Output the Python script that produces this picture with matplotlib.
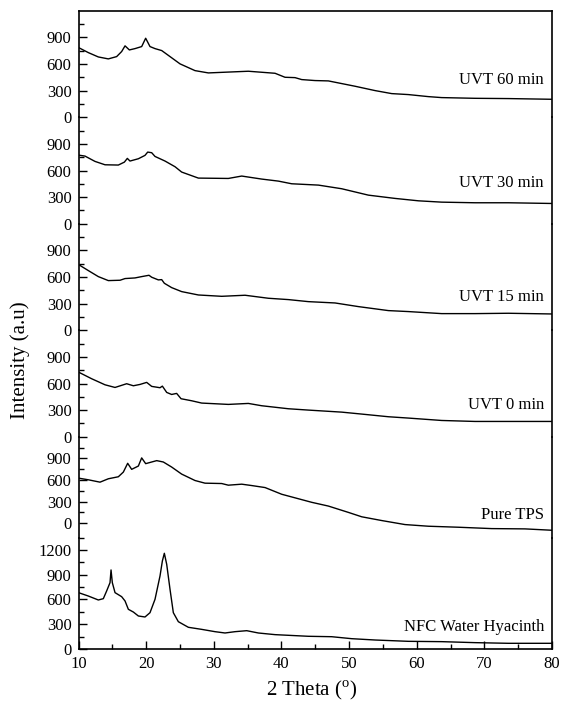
import matplotlib
matplotlib.use("Agg")
import matplotlib.pyplot as plt
from matplotlib.ticker import FixedLocator, MultipleLocator

plt.rcParams['font.family'] = ['Liberation Serif', 'DejaVu Serif']
plt.rcParams['mathtext.fontset'] = 'custom'
plt.rcParams['mathtext.rm'] = 'Liberation Serif'

# ---------------- data ----------------
labels = ["UVT 60 min", "UVT 30 min", "UVT 15 min", "UVT 0 min", "Pure TPS", "NFC Water Hyacinth"]

uvt60_x = [10.0, 11.45, 12.93, 14.41, 15.64, 16.38, 16.88, 17.52, 18.35, 19.34, 19.93, 20.57, 21.31,
           22.30, 23.53, 25.01, 27.22, 29.20, 31.66, 35.11, 39.06, 40.53, 42.01, 43.00, 44.97, 46.94,
           48.91, 50.88, 53.84, 56.30, 58.77, 61.72, 63.69, 68.62, 73.55, 80.0]
uvt60_y = [786, 729, 680, 658, 684, 741, 805, 759, 774, 797, 891, 797, 774,
           752, 684, 602, 526, 500, 508, 519, 496, 451, 447, 425, 414, 410,
           380, 350, 301, 267, 256, 233, 222, 214, 211, 203]

uvt30_x = [10.0, 10.96, 12.44, 13.92, 15.89, 16.78, 17.22, 17.61, 18.85, 19.83, 20.23, 20.82, 21.31,
           22.79, 24.27, 25.25, 27.72, 32.15, 34.13, 37.08, 39.55, 41.52, 45.47, 48.91, 52.85, 56.80,
           60.25, 63.69, 68.62, 73.55, 80.0]
uvt30_y = [774, 763, 703, 665, 662, 695, 737, 707, 733, 771, 808, 801, 759,
           707, 643, 583, 515, 511, 538, 504, 481, 451, 436, 395, 323, 286,
           259, 244, 237, 237, 229]

uvt15_x = [10.0, 11.45, 12.93, 14.41, 16.14, 16.88, 18.35, 19.34, 20.42, 20.82, 21.80, 22.30, 22.69,
           23.77, 25.25, 27.72, 31.17, 34.62, 38.07, 41.03, 43.98, 47.93, 51.38, 55.81, 58.77,
           63.69, 68.62, 73.55, 80.0]
uvt15_y = [741, 673, 605, 560, 564, 583, 590, 605, 620, 598, 568, 571, 530,
           481, 436, 398, 383, 395, 361, 346, 323, 308, 267, 222, 211,
           188, 188, 192, 184]

uvt0_x = [10.0, 11.95, 13.92, 15.40, 17.12, 18.11, 19.09, 20.08, 20.82, 22.05, 22.40, 23.04, 23.77,
          24.51, 25.16, 26.73, 28.21, 32.15, 35.11, 37.08, 41.03, 43.98, 48.91, 51.87, 55.81, 58.77,
          63.69, 68.62, 73.55, 80.0]
uvt0_y = [729, 654, 586, 556, 598, 575, 590, 613, 568, 553, 571, 500, 477,
          489, 429, 406, 380, 365, 376, 350, 316, 301, 278, 256, 226, 211,
          184, 173, 173, 173]

tps_x = [10.0, 11.45, 13.18, 14.41, 15.89, 16.63, 17.27, 17.86, 18.85, 19.34, 19.93, 21.56, 22.54,
         23.77, 25.25, 27.22, 28.70, 31.17, 32.15, 34.13, 35.60, 37.58, 40.04, 44.48, 46.94, 49.90,
         51.87, 54.82, 58.27, 61.72, 66.16, 71.09, 76.01, 80.0]
tps_y = [626, 603, 570, 617, 645, 710, 832, 748, 794, 907, 827, 869, 850,
         780, 682, 593, 556, 551, 528, 542, 523, 495, 402, 290, 238, 150,
         89, 37, -19, -42, -56, -75, -79, -98]

nfc_x = [10.0, 11.45, 12.93, 13.67, 14.16, 14.66, 14.81, 15.00, 15.40, 16.38, 16.88, 17.37, 18.11,
         18.85, 19.83, 20.57, 21.31, 22.05, 22.40, 22.69, 23.04, 23.53, 24.02, 24.76, 26.24, 28.21,
         30.18, 31.66, 33.14, 34.87, 36.59, 39.06, 43.98, 47.43, 50.39, 53.84, 58.77, 63.69, 68.62,
         73.55, 80.0]
nfc_y = [683, 642, 594, 610, 703, 804, 958, 804, 683, 634, 582, 481, 448,
         400, 388, 440, 602, 885, 1067, 1160, 1026, 723, 440, 331, 263, 238,
         210, 194, 210, 222, 194, 174, 154, 149, 125, 109, 93, 89, 77,
         69, 69]

series_x = [uvt60_x, uvt30_x, uvt15_x, uvt0_x, tps_x, nfc_x]
series_y = [uvt60_y, uvt30_y, uvt15_y, uvt0_y, tps_y, nfc_y]
label_y = [421, 455, 372, 361, 117, 267]

# ---------------- layout ----------------
W, H = 563, 706
fig = plt.figure(figsize=(W / 100, H / 100), dpi=100)

left_px, right_px = 78.5, 552.0
# (top_px, bottom_px, ymin, ymax) for each panel
panels = [
    (10.8, 117.3, 0, 1200),
    (117.3, 223.8, 0, 1200),
    (223.8, 330.3, 0, 1200),
    (330.3, 436.8, 0, 1200),
    (436.8, 537.6, -200, 1200),
    (537.6, 649.0, 0, 1350),
]

axes = []
for i, (top, bot, ymin, ymax) in enumerate(panels):
    ax = fig.add_axes([left_px / W, 1 - bot / H, (right_px - left_px) / W, (bot - top) / H])
    ax.set_facecolor('none')
    ax.plot(series_x[i], series_y[i], color='black', lw=1.0)
    ax.set_xlim(10, 80)
    ax.set_ylim(ymin, ymax)
    for s in ax.spines.values():
        s.set_linewidth(1.2)
    if i != 0:
        ax.spines['top'].set_visible(False)
    if i != len(panels) - 1:
        ax.spines['bottom'].set_visible(False)
        ax.tick_params(axis='x', which='both', bottom=False, labelbottom=False)
    if i == len(panels) - 1:
        major = [0, 300, 600, 900, 1200]
        minor = [150, 450, 750, 1050, 1350]
    else:
        major = [0, 300, 600, 900]
        minor = [150, 450, 750, 1050]
    ax.yaxis.set_major_locator(FixedLocator(major))
    ax.yaxis.set_minor_locator(FixedLocator(minor))
    ax.tick_params(axis='y', which='major', direction='in', length=6, width=1.0,
                   labelsize=12, pad=5)
    ax.tick_params(axis='y', which='minor', direction='in', length=3.5, width=1.0)
    ax.text(78.8, label_y[i], labels[i], ha='right', va='center', fontsize=12)
    axes.append(ax)

axb = axes[-1]
axb.xaxis.set_major_locator(MultipleLocator(10))
axb.xaxis.set_minor_locator(MultipleLocator(5))
axb.tick_params(axis='x', which='major', direction='in', length=6, width=1.0,
                labelsize=12, pad=5, top=False)
axb.tick_params(axis='x', which='minor', direction='in', length=3.5, width=1.0, top=False)

fig.text(312 / W, 1 - 690 / H, r'2 Theta ($^{\rm o}$)', ha='center', va='center', fontsize=15)
fig.text(20 / W, 1 - 360 / H, 'Intensity (a.u)', ha='center', va='center', rotation=90, fontsize=15)

fig.savefig('out.png', dpi=100)
